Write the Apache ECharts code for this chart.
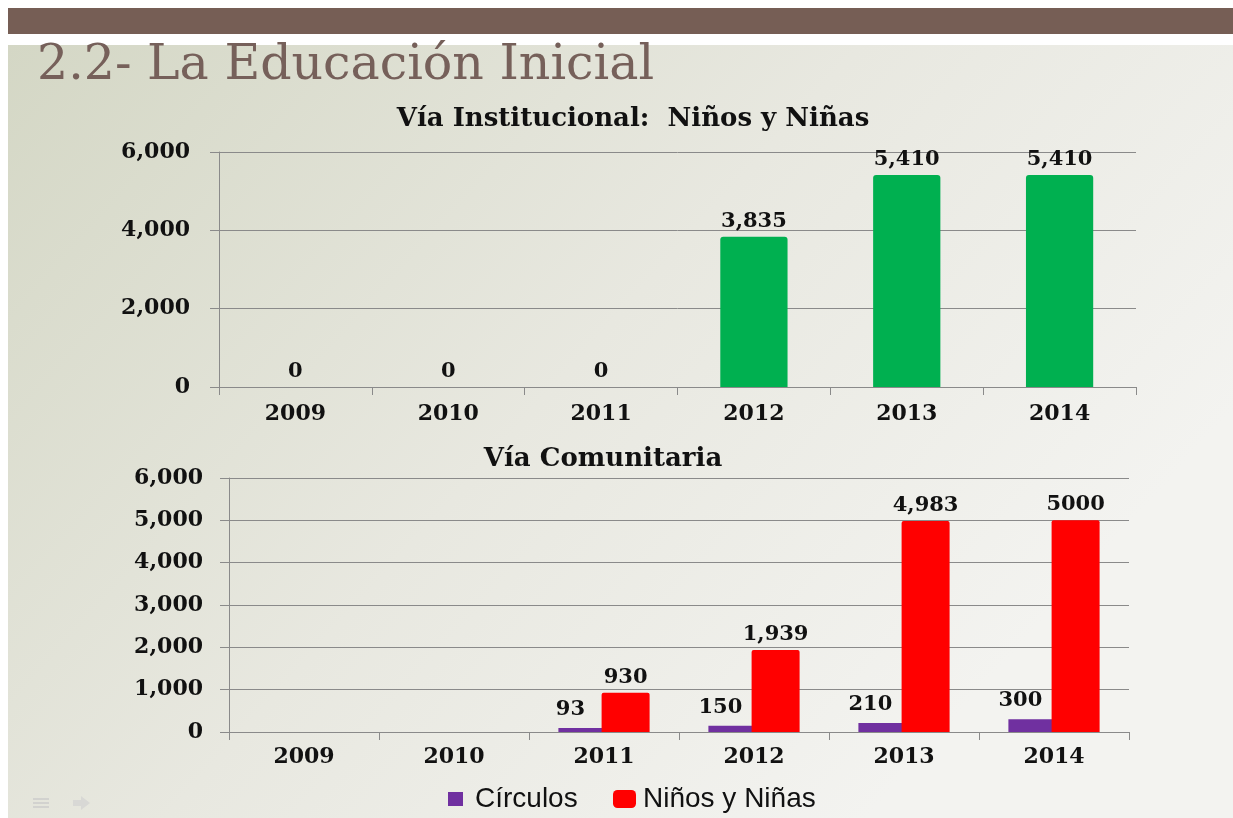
<!DOCTYPE html>
<html>
<head>
<meta charset="utf-8">
<title>La Educación Inicial</title>
<script src="https://cdn.jsdelivr.net/npm/echarts@6/dist/echarts.min.js"></script>
<style>
  html, body { margin: 0; padding: 0; background: #ffffff; }
  #main { width: 1233px; height: 818px; }
</style>
</head>
<body>
<div id="main"></div>
<script>
const years = ['2009', '2010', '2011', '2012', '2013', '2014'];
const institucional = [0, 0, 0, 3835, 5410, 5410];
const circulos = [null, null, 93, 150, 210, 300];
const ninosComunitaria = [null, null, 930, 1939, 4983, 5000];
const ninosComunitariaText = ['', '', '930', '1,939', '4,983', '5000'];
const yTicks = [0, 6000, 2000, 1000];

const serif = '"DejaVu Serif", "Liberation Serif", serif';
const sans = '"Liberation Sans", Arial, sans-serif';
const fmt = v => Number(v).toLocaleString('en-US');

let chart = echarts.init(document.getElementById('main'));

function yAxisFor(gridIndex, interval, margin) {
  return {
    type: 'value',
    gridIndex: gridIndex,
    min: yTicks[0],
    max: yTicks[1],
    interval: interval,
    axisLine: { show: true, lineStyle: { color: '#8a8a8a', width: 1 } },
    axisTick: { show: true, length: 9, lineStyle: { color: '#8a8a8a' } },
    splitLine: { lineStyle: { color: '#8a8a8a', width: 1 } },
    axisLabel: {
      margin: margin,
      fontFamily: serif, fontWeight: 'bold', fontSize: 22, color: '#111',
      formatter: fmt
    }
  };
}

function xAxisFor(gridIndex, margin) {
  return {
    type: 'category',
    gridIndex: gridIndex,
    data: years,
    axisLine: { show: true, lineStyle: { color: '#8a8a8a', width: 1 } },
    axisTick: { show: true, length: 8, lineStyle: { color: '#8a8a8a' } },
    axisLabel: {
      margin: margin,
      fontFamily: serif, fontWeight: 'bold', fontSize: 22, color: '#111'
    }
  };
}

const labelStyle = {
  show: true,
  position: 'top',
  distance: 5,
  fontFamily: serif,
  fontWeight: 'bold',
  fontSize: 21,
  color: '#111'
};

let option = {
  animation: false,
  graphic: [
    {
      type: 'rect', silent: true, z: -10,
      shape: { x: 8, y: 45, width: 1225, height: 773 },
      style: {
        fill: new echarts.graphic.LinearGradient(0, 0, 0.7, 1, [
          { offset: 0, color: '#d4d7c5' },
          { offset: 0.55, color: '#e8e8e0' },
          { offset: 1, color: '#f3f3f0' }
        ])
      }
    },
    {
      type: 'rect', silent: true, z: -9,
      shape: { x: 8, y: 8, width: 1225, height: 26 },
      style: { fill: '#765e55' }
    },
    {
      type: 'group', silent: true, z: -8,
      children: [
        { type: 'rect', shape: { x: 33, y: 798, width: 16, height: 2 }, style: { fill: '#d2d2cf' } },
        { type: 'rect', shape: { x: 33, y: 802, width: 16, height: 2 }, style: { fill: '#d2d2cf' } },
        { type: 'rect', shape: { x: 33, y: 806, width: 16, height: 2 }, style: { fill: '#d2d2cf' } },
        { type: 'polygon', shape: { points: [[73, 800], [81, 800], [81, 796], [90, 803], [81, 810], [81, 806], [73, 806]] }, style: { fill: '#d8d8d5' } }
      ]
    }
  ],
  title: [
    {
      text: '2.2- La Educación Inicial',
      left: 32, top: 37,
      textStyle: { fontFamily: serif, fontWeight: 'normal', fontSize: 49, color: '#76605a' }
    },
    {
      text: 'Vía Institucional:  Niños y Niñas',
      left: 628, top: 101, textAlign: 'center',
      textStyle: { fontFamily: serif, fontWeight: 'bold', fontSize: 26, color: '#111' }
    },
    {
      text: 'Vía Comunitaria',
      left: 598, top: 441, textAlign: 'center',
      textStyle: { fontFamily: serif, fontWeight: 'bold', fontSize: 26, color: '#111' }
    }
  ],
  legend: [
    {
      data: ['Círculos'],
      left: 443, top: 780,
      itemWidth: 15, itemHeight: 14,
      icon: 'rect',
      textStyle: { fontFamily: sans, fontSize: 28, color: '#111', padding: [0, 0, 0, 7] }
    },
    {
      data: ['Niños y Niñas'],
      left: 608, top: 780,
      itemWidth: 23, itemHeight: 18,
      icon: 'roundRect',
      textStyle: { fontFamily: sans, fontSize: 28, color: '#111', padding: [0, 0, 0, 2] }
    }
  ],
  grid: [
    { left: 219, top: 152, width: 917, height: 235 },
    { left: 229, top: 478, width: 900, height: 254 }
  ],
  xAxis: [xAxisFor(0, 16), xAxisFor(1, 14)],
  yAxis: [yAxisFor(0, yTicks[2], 29), yAxisFor(1, yTicks[3], 26)],
  series: [
    {
      name: 'Institucional',
      type: 'bar',
      xAxisIndex: 0, yAxisIndex: 0,
      data: institucional,
      barWidth: '44%',
      itemStyle: { color: '#00b050', borderRadius: [3, 3, 0, 0] },
      label: Object.assign({}, labelStyle, { formatter: p => fmt(p.value) })
    },
    {
      name: 'Círculos',
      type: 'bar',
      xAxisIndex: 1, yAxisIndex: 1,
      data: circulos,
      barWidth: 48,
      barGap: '-10%',
      itemStyle: { color: '#7030a0' },
      label: Object.assign({}, labelStyle, { distance: 8, offset: [-12, 0], formatter: p => fmt(p.value) })
    },
    {
      name: 'Niños y Niñas',
      type: 'bar',
      xAxisIndex: 1, yAxisIndex: 1,
      data: ninosComunitaria,
      barWidth: 48,
      barGap: '-10%',
      itemStyle: { color: '#ff0000', borderRadius: [2, 2, 0, 0] },
      label: Object.assign({}, labelStyle, { formatter: p => ninosComunitariaText[p.dataIndex] })
    }
  ]
};

chart.setOption(option);
</script>
</body>
</html>
